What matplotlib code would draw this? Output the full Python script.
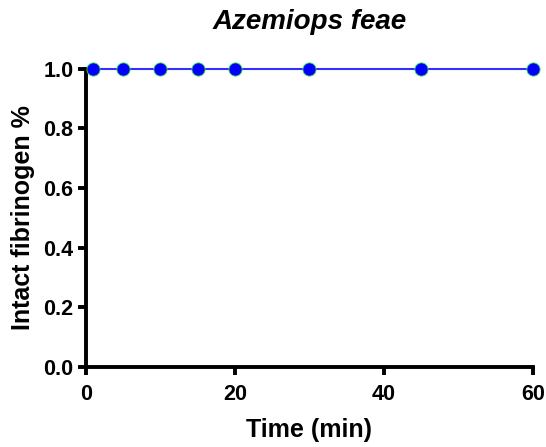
import matplotlib
matplotlib.use("Agg")
import matplotlib.pyplot as plt

time_min = [1, 5, 10, 15, 20, 30, 45, 60]
intact = [1.0, 1.0, 1.0, 1.0, 1.0, 1.0, 1.0, 1.0]
xticks = [0, 20, 40, 60]
yticks = [0.0, 0.2, 0.4, 0.6, 0.8, 1.0]

plt.rcParams['font.family'] = ['Liberation Sans', 'DejaVu Sans']
fig = plt.figure(figsize=(5.46, 4.47), dpi=100)
ax = fig.add_axes([0.1575, 0.179, 0.8185, 0.667])
ax.plot(time_min, intact, color='#3030ff', lw=1.5, marker='o', markersize=9.5,
        markerfacecolor='#0000ff', markeredgecolor='#44dd44', markeredgewidth=0.6,
        clip_on=False, zorder=5)
ax.set_xlim(0, 60)
ax.set_ylim(0, 1.0)
ax.set_xticks(xticks)
ax.set_yticks(yticks)
ax.set_yticklabels([f"{v:.1f}" for v in yticks])
for s in ['top', 'right']:
    ax.spines[s].set_visible(False)
for s in ['left', 'bottom']:
    ax.spines[s].set_linewidth(2.8)
ax.tick_params(width=2.8, length=6, labelsize=15.5, direction='out')
ax.tick_params(axis='x', pad=6.5)
ax.tick_params(axis='y', pad=3)
for lab in ax.get_xticklabels() + ax.get_yticklabels():
    lab.set_fontweight('bold')
ax.set_xlabel('Time (min)', fontsize=18, fontweight='bold', labelpad=9)
ax.set_ylabel('Intact fibrinogen %', fontsize=18, fontweight='bold', labelpad=6)
ax.set_title('Azemiops feae', fontsize=20, fontweight='bold', style='italic', pad=29)
fig.savefig('out.png', dpi=100)
